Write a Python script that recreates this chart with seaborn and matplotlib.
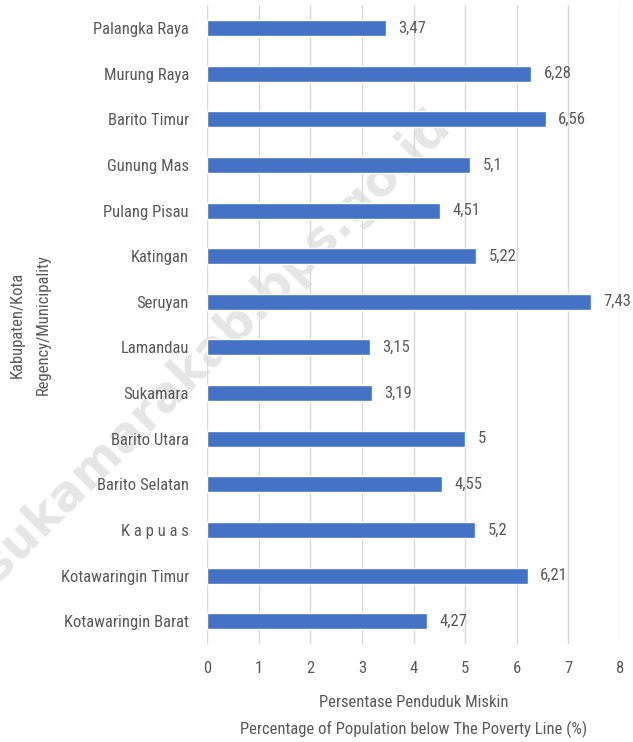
import matplotlib
matplotlib.use("Agg")
import matplotlib.pyplot as plt
from matplotlib import font_manager
import seaborn as sns
import pandas as pd

regions = [
    "Palangka Raya", "Murung Raya", "Barito Timur", "Gunung Mas", "Pulang Pisau",
    "Katingan", "Seruyan", "Lamandau", "Sukamara", "Barito Utara",
    "Barito Selatan", "K a p u a s", "Kotawaringin Timur", "Kotawaringin Barat",
]
poverty_pct = [3.47, 6.28, 6.56, 5.10, 4.51, 5.22, 7.43, 3.15, 3.19, 5.00,
               4.55, 5.20, 6.21, 4.27]
value_labels = ["3,47", "6,28", "6,56", "5,1", "4,51", "5,22", "7,43", "3,15",
                "3,19", "5", "4,55", "5,2", "6,21", "4,27"]
x_ticks = [0, 1, 2, 3, 4, 5, 6, 7, 8]

sns.set_theme(style="white")

# prefer a narrow sans face when one is installed
candidates = []
for f in font_manager.fontManager.ttflist:
    nm = f.name.lower()
    st = str(f.stretch).lower()
    if f.style != "normal" or f.weight not in (400, "normal", "regular"):
        continue
    if "condensed" in nm or "narrow" in nm or "condensed" in st or "narrow" in st:
        candidates.append(f)
pref = ["roboto", "open sans", "liberation", "noto sans", "dejavu"]
candidates.sort(key=lambda f: next((i for i, p in enumerate(pref) if p in f.name.lower()), 99))
if candidates:
    label_font = font_manager.FontProperties(fname=candidates[0].fname)
    font_manager.fontManager.addfont(candidates[0].fname)
else:
    label_font = font_manager.FontProperties(family="DejaVu Sans")
plt.rcParams["font.family"] = [label_font.get_name(), "DejaVu Sans"]

TEXT = "#595959"
BAR = "#4472C4"

df = pd.DataFrame({"region": regions, "pct": poverty_pct})

fig = plt.figure(figsize=(6.33, 7.42), dpi=100)
ax = fig.add_axes([0.327, 0.132, 0.6525, 0.861])

# faint site watermark, behind everything
fig.text(0.245, 0.455, "http://sukamarakab.bps.go.id", rotation=45,
         fontsize=35, fontweight="bold", color="#e6e6e6",
         ha="center", va="center", family="DejaVu Sans", zorder=-1)

sns.barplot(data=df, y="region", x="pct", orient="h", color=BAR,
            width=0.35, saturation=1, ax=ax, zorder=3)

ax.set_xlim(0, 8)
ax.set_xticks(x_ticks)
ax.set_xticklabels([str(t) for t in x_ticks])
ax.grid(axis="x", color="#d9d9d9", linewidth=1, zorder=0)
ax.set_axisbelow(True)
for s in ax.spines.values():
    s.set_visible(False)
ax.patch.set_alpha(0)

ax.tick_params(axis="both", length=0, labelsize=12, colors=TEXT)
ax.tick_params(axis="y", pad=13)
ax.tick_params(axis="x", pad=12)

for i, (v, lab) in enumerate(zip(poverty_pct, value_labels)):
    ax.text(v + 0.24, i, lab, va="center", ha="left", fontsize=12, color=TEXT)

ax.set_xlabel("Persentase Penduduk Miskin\nPercentage of Population below The Poverty Line (%)",
              fontsize=12, color=TEXT, labelpad=14, linespacing=1.8)
ax.set_ylabel("")
fig.text(0.027, 0.562, "Kabupaten/Kota", rotation=90, ha="center", va="center",
         fontsize=12, color=TEXT)
fig.text(0.068, 0.562, "Regency/Municipality", rotation=90, ha="center", va="center",
         fontsize=12, color=TEXT)

fig.savefig("out.png", dpi=100)
